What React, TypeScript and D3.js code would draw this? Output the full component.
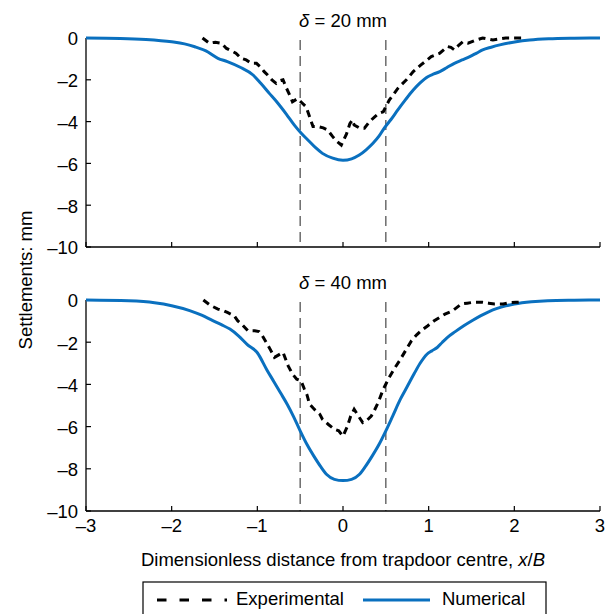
import React from 'react';
import * as d3 from 'd3';

// ---------- data ----------
const xTicks = [-3, -2, -1, 0, 1, 2, 3];
const yTicks = [0, -2, -4, -6, -8, -10];
const trapdoorEdges = [-0.5, 0.5];
const panelDeltas = ['20', '40'];

const topNumX = [-3, -2.6, -2.3, -2.0, -1.85, -1.73, -1.6, -1.46, -1.35, -1.2, -1.05, -0.96, -0.86, -0.76, -0.66, -0.57, -0.49, -0.41, -0.32, -0.24, -0.12, 0, 0.1, 0.19, 0.27, 0.35, 0.42, 0.48, 0.56, 0.64, 0.73, 0.82, 0.9, 0.99, 1.06, 1.13, 1.21, 1.3, 1.39, 1.48, 1.56, 1.63, 1.73, 1.83, 2.02, 2.18, 2.4, 2.7, 3];
const topNumY = [0, -0.02, -0.07, -0.18, -0.28, -0.42, -0.62, -0.97, -1.13, -1.4, -1.77, -2.17, -2.65, -3.12, -3.65, -4.16, -4.55, -4.88, -5.25, -5.52, -5.75, -5.85, -5.78, -5.6, -5.35, -5.04, -4.7, -4.32, -3.9, -3.44, -2.95, -2.49, -2.15, -1.85, -1.72, -1.61, -1.42, -1.21, -1.05, -0.89, -0.72, -0.57, -0.44, -0.33, -0.18, -0.1, -0.04, -0.01, 0];

const topExpX = [-1.64, -1.56, -1.49, -1.42, -1.36, -1.3, -1.25, -1.19, -1.13, -1.07, -1.01, -0.96, -0.92, -0.88, -0.83, -0.78, -0.74, -0.7, -0.66, -0.62, -0.59, -0.53, -0.48, -0.43, -0.39, -0.35, -0.29, -0.23, -0.18, -0.12, -0.07, -0.02, 0.04, 0.08, 0.11, 0.13, 0.19, 0.25, 0.31, 0.37, 0.42, 0.47, 0.54, 0.64, 0.74, 0.82, 0.91, 1.03, 1.13, 1.22, 1.26, 1.3, 1.35, 1.4, 1.46, 1.55, 1.63, 1.69, 1.75, 1.82, 1.9, 2.0, 2.08];
const topExpY = [0, -0.25, -0.2, -0.25, -0.5, -0.62, -0.73, -0.97, -1.05, -1.21, -1.21, -1.4, -1.61, -1.77, -2.0, -2.17, -2.05, -2.0, -2.4, -2.75, -3.05, -2.9, -3.1, -3.3, -3.77, -4.24, -4.24, -4.3, -4.4, -4.72, -4.95, -5.12, -4.6, -4.1, -3.92, -4.16, -4.3, -4.32, -4.0, -3.77, -3.6, -3.53, -2.97, -2.41, -2.0, -1.61, -1.29, -0.89, -0.73, -0.41, -0.45, -0.57, -0.35, -0.18, -0.25, -0.1, 0, -0.05, -0.1, -0.05, 0, 0, 0];

const botNumX = [-3, -2.5, -2.2, -2.0, -1.79, -1.65, -1.52, -1.42, -1.32, -1.22, -1.12, -1.0, -0.89, -0.81, -0.73, -0.65, -0.58, -0.5, -0.42, -0.34, -0.26, -0.19, -0.1, 0, 0.1, 0.19, 0.26, 0.34, 0.42, 0.5, 0.58, 0.67, 0.75, 0.83, 0.9, 0.98, 1.04, 1.1, 1.16, 1.22, 1.31, 1.41, 1.51, 1.61, 1.7, 1.8, 1.9, 2.0, 2.2, 2.39, 2.7, 3];
const botNumY = [0, -0.04, -0.13, -0.27, -0.5, -0.72, -0.98, -1.17, -1.38, -1.7, -2.1, -2.5, -3.3, -3.85, -4.4, -4.95, -5.5, -6.2, -6.85, -7.4, -7.9, -8.27, -8.5, -8.56, -8.5, -8.27, -7.9, -7.4, -6.85, -6.2, -5.5, -4.7, -4.1, -3.5, -3.0, -2.57, -2.4, -2.25, -2.0, -1.77, -1.5, -1.22, -0.97, -0.74, -0.56, -0.4, -0.28, -0.19, -0.08, -0.03, -0.01, 0];

const botExpX = [-1.63, -1.55, -1.46, -1.4, -1.35, -1.27, -1.23, -1.17, -1.11, -1.03, -0.98, -0.94, -0.89, -0.84, -0.8, -0.75, -0.7, -0.64, -0.59, -0.54, -0.49, -0.45, -0.42, -0.39, -0.33, -0.27, -0.24, -0.17, -0.1, -0.05, 0.0, 0.05, 0.09, 0.13, 0.18, 0.23, 0.28, 0.33, 0.37, 0.41, 0.47, 0.54, 0.6, 0.66, 0.73, 0.8, 0.86, 0.91, 0.99, 1.06, 1.13, 1.19, 1.28, 1.38, 1.45, 1.52, 1.63, 1.7, 1.77, 1.87, 1.95, 2.02, 2.1];
const botExpY = [0, -0.25, -0.43, -0.5, -0.59, -0.75, -0.98, -1.2, -1.46, -1.46, -1.5, -1.7, -2.05, -2.41, -2.72, -2.6, -2.48, -3.12, -3.51, -3.75, -3.83, -4.23, -4.5, -4.94, -5.2, -5.42, -5.65, -5.9, -6.13, -6.2, -6.45, -6.0, -5.5, -5.18, -5.5, -5.81, -5.7, -5.5, -5.2, -4.86, -4.23, -3.67, -3.25, -2.88, -2.4, -1.93, -1.65, -1.46, -1.22, -1.0, -0.82, -0.67, -0.51, -0.19, -0.15, -0.11, -0.11, -0.15, -0.19, -0.19, -0.12, -0.11, -0.1];

const legendLabels = ['Experimental', 'Numerical'];

// ---------- styling ----------
const FONT = '"Liberation Sans", Arial, Helvetica, sans-serif';
const FS = 18.5;
const BLUE = '#0a70bf';

const fmt = (v: number) => (v < 0 ? '\u2013' + Math.abs(v) : String(v));
const zip = (xs: number[], ys: number[]) => xs.map((v, i) => [v, ys[i]] as [number, number]);

export default function App() {
  const x = d3.scaleLinear().domain([-3, 3]).range([86, 600]);
  const panels = [
    { top: 38, bottom: 247, num: zip(topNumX, topNumY), exp: zip(topExpX, topExpY), delta: panelDeltas[0], showX: false },
    { top: 300, bottom: 511, num: zip(botNumX, botNumY), exp: zip(botExpX, botExpY), delta: panelDeltas[1], showX: true },
  ];

  return (
    <svg width={607} height={614} style={{ position: 'absolute', left: 0, top: 0, background: '#fff' }} fontFamily={FONT}>
      <rect x={0} y={0} width={607} height={614} fill="#fff" />
      {panels.map((p, pi) => {
        const y = d3.scaleLinear().domain([-10, 0]).range([p.bottom, p.top]);
        const numLine = d3.line<[number, number]>().x(d => x(d[0])).y(d => y(d[1])).curve(d3.curveMonotoneX);
        const expLine = d3.line<[number, number]>().x(d => x(d[0])).y(d => y(d[1]));
        return (
          <g key={pi}>
            {trapdoorEdges.map((e, i) => (
              <line key={i} x1={x(e)} x2={x(e)} y1={p.top + 2} y2={p.bottom} stroke="#555" strokeWidth={1.3} strokeDasharray="10,6" />
            ))}
            <text x={x(0)} y={p.top - 11} textAnchor="middle" fontSize={FS} fill="#000">
              <tspan fontStyle="italic">δ</tspan>
              {` = ${p.delta} mm`}
            </text>
            <line x1={x(-3)} x2={x(-3)} y1={y(0)} y2={y(-10)} stroke="#000" strokeWidth={1.3} />
            <line x1={x(-3)} x2={x(3)} y1={y(-10)} y2={y(-10)} stroke="#000" strokeWidth={1.3} />
            {yTicks.map(t => (
              <g key={t}>
                <line x1={x(-3)} x2={x(-3) + 5} y1={y(t)} y2={y(t)} stroke="#000" strokeWidth={1.2} />
                <text x={x(-3) - 8} y={y(t)} dy="0.4em" textAnchor="end" fontSize={FS} fill="#000">{fmt(t)}</text>
              </g>
            ))}
            {xTicks.map(t => (
              <g key={t}>
                <line x1={x(t)} x2={x(t)} y1={y(-10)} y2={y(-10) - 5} stroke="#000" strokeWidth={1.2} />
                {p.showX && (
                  <text x={x(t)} y={y(-10) + 21} textAnchor="middle" fontSize={FS} fill="#000">{fmt(t)}</text>
                )}
              </g>
            ))}
            <path d={numLine(p.num) || ''} fill="none" stroke={BLUE} strokeWidth={3} />
            <path d={expLine(p.exp) || ''} fill="none" stroke="#000" strokeWidth={3} strokeDasharray="7,5" />
          </g>
        );
      })}
      <text x={343} y={566} textAnchor="middle" fontSize={FS} fill="#000">
        Dimensionless distance from trapdoor centre, <tspan fontStyle="italic">x</tspan>/<tspan fontStyle="italic">B</tspan>
      </text>
      <text transform="translate(32,280) rotate(-90)" textAnchor="middle" fontSize={FS} fill="#000">Settlements: mm</text>
      <rect x={143} y={582} width={403} height={40} fill="#fff" stroke="#000" strokeWidth={1.2} />
      <line x1={157} x2={227} y1={600} y2={600} stroke="#000" strokeWidth={3} strokeDasharray="9.5,13" />
      <text x={236} y={605} fontSize={FS} fill="#000">{legendLabels[0]}</text>
      <line x1={363} x2={430} y1={600} y2={600} stroke={BLUE} strokeWidth={3} />
      <text x={442} y={605} fontSize={FS} fill="#000">{legendLabels[1]}</text>
    </svg>
  );
}
